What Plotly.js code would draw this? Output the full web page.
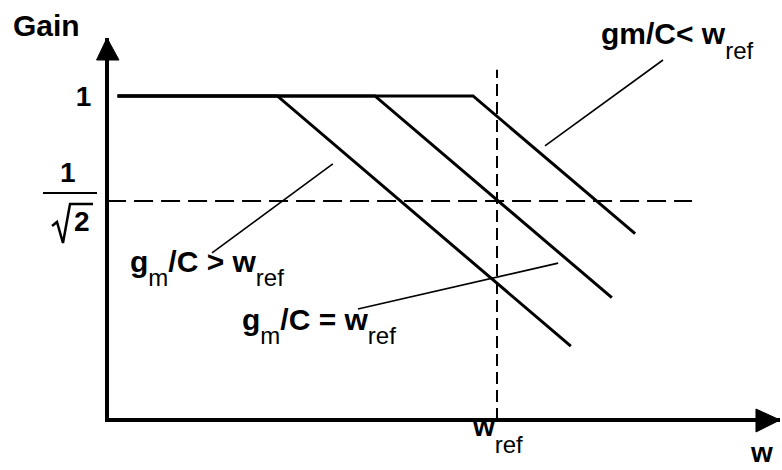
<!DOCTYPE html>
<html>
<head>
<meta charset="utf-8">
<script src="https://cdn.plot.ly/plotly-3.0.1.min.js"></script>
<style>
  html, body { margin: 0; padding: 0; background: #fff; }
  #chart { width: 782px; height: 470px; }
</style>
</head>
<body>
<div id="chart"></div>
<script>
// Asymptotic gain of a first-order stage: unity up to the corner, then -20 dB/decade.
// Three corner frequencies around the reference frequency w_ref (= 1).
const wStart = 0.345;
const lowCornerW = [wStart, 0.54, 1.23];
const lowCornerGain = [1, 1, 0.438];
const midCornerW = [wStart, 0.71, 1.38];
const midCornerGain = [1, 1, 0.514];
const highCornerW = [wStart, 0.935, 1.473];
const highCornerGain = [1, 1, 0.635];

// Reference levels: the -3 dB gain and the reference frequency
const wRef = 1;
const halfPowerGain = 0.7071;          // 1/sqrt(2)
const halfPowerLineW = [0.335, 1.728];
const wRefLineGain = [0.3433, 1.09];

// Callout leader lines (label end -> curve end)
const calloutAW = [1.593, 1.144], calloutAGain = [1.126, 0.848];
const calloutBW = [0.4497, 0.631], calloutBGain = [0.5957, 0.799];
const calloutCW = [0.677, 1.187], calloutCGain = [0.495, 0.576];

// Axis tick labels
const yTickVals = [1];
const yTickText = ['1'];

// subscript: regular weight, near full size, dropped below the baseline
const sub = (s, shift) =>
  '<span style="font-size:24px;font-weight:normal;baseline-shift:-' + (shift || 14) + 'px">' + s + '</span>';

const curve = (x, y) => ({
  type: 'scatter', mode: 'lines', x: x, y: y,
  line: { color: '#000', width: 3 }, hoverinfo: 'skip'
});
const dashed = (x, y, dash) => ({
  type: 'scatter', mode: 'lines', x: x, y: y,
  line: { color: '#000', width: 2, dash: dash }, hoverinfo: 'skip'
});
const leader = (x, y) => ({
  type: 'scatter', mode: 'lines', x: x, y: y,
  line: { color: '#000', width: 1.6 }, hoverinfo: 'skip'
});

const data = [
  dashed(halfPowerLineW, [halfPowerGain, halfPowerGain], '19px,8px'),
  dashed([wRef, wRef], wRefLineGain, '12px,6px'),
  curve(lowCornerW, lowCornerGain),
  curve(midCornerW, midCornerGain),
  curve(highCornerW, highCornerGain),
  leader(calloutAW, calloutAGain),
  leader(calloutBW, calloutBGain),
  leader(calloutCW, calloutCGain)
];

const textFont = { family: '"Liberation Sans", Arial, sans-serif', size: 30, color: '#000', weight: 'bold' };
const ann = (text, x, y, xanchor, size, xref) => ({
  text: text, xref: xref || 'paper', yref: 'paper', x: x, y: y,
  xanchor: xanchor, yanchor: 'middle', showarrow: false,
  font: Object.assign({}, textFont, size ? { size: size } : {})
});

const layout = {
  width: 782, height: 470,
  margin: { l: 109, r: 2, t: 38, b: 52, pad: 0 },
  paper_bgcolor: '#fff', plot_bgcolor: '#fff',
  showlegend: false,
  font: textFont,
  xaxis: {
    type: 'log', range: [-0.4726, 0.3447],
    showgrid: false, zeroline: false, showline: true,
    linecolor: '#000', linewidth: 4, ticks: '', showticklabels: false,
    fixedrange: true
  },
  yaxis: {
    type: 'log', range: [-0.4615, 0.0831],
    showgrid: false, zeroline: false, showline: true,
    linecolor: '#000', linewidth: 4, ticks: '',
    tickvals: yTickVals, ticktext: yTickText,
    tickfont: { size: 28, weight: 'bold' }, ticklabelstandoff: 8, fixedrange: true
  },
  shapes: [
    // axis arrowheads
    { type: 'path', xref: 'paper', yref: 'paper',
      path: 'M -0.00298 1.0 L -0.0186 0.9421 L 0.0149 0.9421 Z',
      fillcolor: '#000', line: { color: '#000', width: 1 } },
    { type: 'path', xref: 'paper', yref: 'paper',
      path: 'M 1.0 -0.00526 L 0.9642 0.02368 L 0.9642 -0.03684 Z',
      fillcolor: '#000', line: { color: '#000', width: 1 } },
    // 1/sqrt(2) label: fraction bar and radical sign
    { type: 'line', xref: 'paper', yref: 'paper',
      x0: -0.0984, x1: -0.01788, y0: 0.592, y1: 0.592,
      line: { color: '#000', width: 2 } },
    { type: 'path', xref: 'paper', yref: 'paper',
      path: 'M -0.0849 0.5053 L -0.0775 0.5158 L -0.0686 0.4605 L -0.0581 0.5632 L -0.0238 0.5632',
      line: { color: '#000', width: 2.5 } }
  ],
  annotations: [
    ann('Gain', -0.146, 1.034, 'left'),
    ann('1', -0.0611, 0.647, 'center', 28),
    ann('2', -0.0402, 0.5158, 'center', 28),
    ann('gm/C&lt; w' + sub('ref', 15), 0.730, 0.9947, 'left'),
    ann('g' + sub('m') + '/C &gt; w' + sub('ref'), 0.0283, 0.3947, 'left'),
    ann('g' + sub('m') + '/C = w' + sub('ref'), 0.195, 0.2421, 'left'),
    // reference frequency on the w axis
    ann('w' + sub('ref', 17), Math.log10(wRef), -0.0447, 'center', 28, 'x'),
    // frequency axis name
    ann('w', 0.953, -0.092, 'left', 28)
  ]
};

Plotly.newPlot('chart', data, layout, { staticPlot: true, displayModeBar: false });
</script>
</body>
</html>
